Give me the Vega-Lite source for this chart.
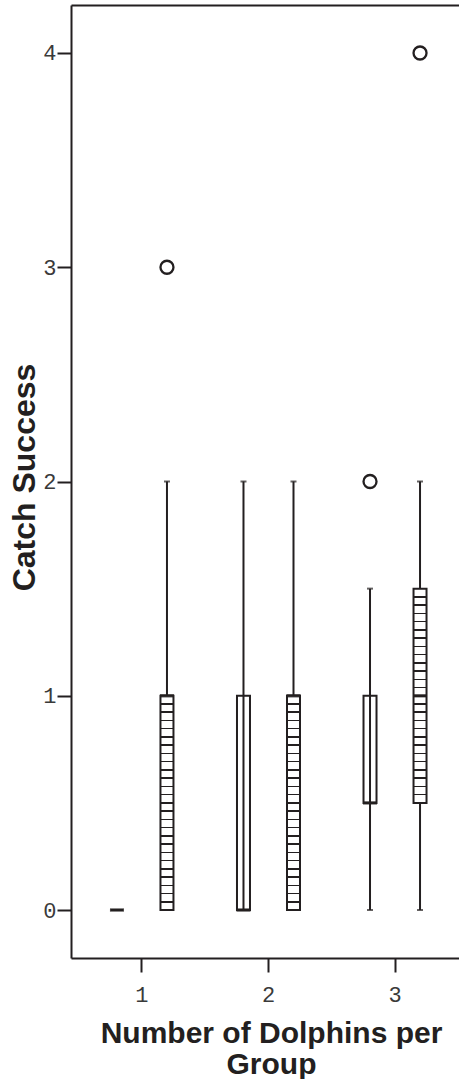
{
  "$schema": "https://vega.github.io/schema/vega-lite/v6.json",
  "width": 388,
  "height": 953,
  "autosize": {"type": "none"},
  "padding": {"left": 71, "top": 5, "right": 0, "bottom": 121},
  "background": "white",
  "config": {
    "view": {"stroke": null},
    "axis": {
      "domainColor": "#231f20", "domainWidth": 2,
      "tickColor": "#231f20", "tickWidth": 2, "tickSize": 14,
      "labelFont": "Liberation Mono", "labelFontSize": 22, "labelColor": "#3a3a3a",
      "titleFont": "Liberation Sans", "titleFontWeight": "bold", "titleFontSize": 30, "titleColor": "#231f20",
      "grid": false
    }
  },
  "datasets": {
    "summ": [
      {"g": "1", "s": "A", "lo": 0, "q1": 0, "med": 0, "q3": 0, "hi": 0},
      {"g": "1", "s": "B", "lo": 0, "q1": 0, "med": 1, "q3": 1, "hi": 2},
      {"g": "2", "s": "A", "lo": 0, "q1": 0, "med": 0, "q3": 1, "hi": 2},
      {"g": "2", "s": "B", "lo": 0, "q1": 0, "med": 1, "q3": 1, "hi": 2},
      {"g": "3", "s": "A", "lo": 0, "q1": 0.5, "med": 0.5, "q3": 1, "hi": 1.5},
      {"g": "3", "s": "B", "lo": 0, "q1": 0.5, "med": 1, "q3": 1.5, "hi": 2}
    ],
    "out": [
      {"g": "1", "s": "B", "v": 3},
      {"g": "3", "s": "A", "v": 2},
      {"g": "3", "s": "B", "v": 4}
    ]
  },
  "resolve": {"axis": {"x": "independent"}},
  "layer": [
    {
      "data": {"name": "summ"},
      "mark": {"type": "rule", "color": "#231f20", "strokeWidth": 2},
      "encoding": {
        "x": {"field": "g", "type": "nominal", "sort": ["1", "2", "3"],
              "scale": {"type": "band", "domain": ["1", "2", "3"], "paddingInner": 0.2095, "paddingOuter": 0.138, "align": 0.6},
              "axis": {"orient": "top", "labels": false, "ticks": false, "title": null, "domain": true}},
        "xOffset": {"field": "s", "type": "nominal", "scale": {"domain": ["A", "B"], "paddingInner": 0, "paddingOuter": 0}},
        "y": {"field": "lo", "type": "quantitative",
              "scale": {"domain": [-0.224, 4.224], "nice": false, "zero": false},
              "axis": {"values": [0, 1, 2, 3, 4], "title": "Catch Success", "labelPadding": 1, "titleFontSize": 32, "titleX": -37, "titleY": 472, "titleBaseline": "alphabetic", "titleAngle": -90, "titleAlign": "center"}},
        "y2": {"field": "hi"}
      }
    },
    {
      "data": {"name": "summ"},
      "mark": {"type": "tick", "color": "#231f20", "size": 6, "thickness": 2},
      "encoding": {
        "x": {"field": "g", "type": "nominal", "axis": null},
        "xOffset": {"field": "s", "type": "nominal"},
        "y": {"field": "lo", "type": "quantitative", "axis": {"values": [0, 1, 2, 3, 4], "title": "Catch Success", "labelPadding": 1, "titleFontSize": 32, "titleX": -37, "titleY": 472, "titleBaseline": "alphabetic", "titleAngle": -90, "titleAlign": "center"}}
      }
    },
    {
      "data": {"name": "summ"},
      "mark": {"type": "tick", "color": "#231f20", "size": 6, "thickness": 2},
      "encoding": {
        "x": {"field": "g", "type": "nominal", "axis": null},
        "xOffset": {"field": "s", "type": "nominal"},
        "y": {"field": "hi", "type": "quantitative", "axis": {"values": [0, 1, 2, 3, 4], "title": "Catch Success", "labelPadding": 1, "titleFontSize": 32, "titleX": -37, "titleY": 472, "titleBaseline": "alphabetic", "titleAngle": -90, "titleAlign": "center"}}
      }
    },
    {
      "data": {"name": "summ"},
      "transform": [{"filter": "datum.s == 'A'"}],
      "mark": {"type": "bar", "width": 13, "fill": "transparent", "stroke": "#231f20", "strokeWidth": 2},
      "encoding": {
        "x": {"field": "g", "type": "nominal", "axis": null},
        "xOffset": {"field": "s", "type": "nominal"},
        "y": {"field": "q1", "type": "quantitative", "axis": {"values": [0, 1, 2, 3, 4], "title": "Catch Success", "labelPadding": 1, "titleFontSize": 32, "titleX": -37, "titleY": 472, "titleBaseline": "alphabetic", "titleAngle": -90, "titleAlign": "center"}},
        "y2": {"field": "q3"}
      }
    },
    {
      "data": {"name": "summ"},
      "transform": [{"filter": "datum.s == 'B'"}],
      "mark": {"type": "bar", "width": 13, "stroke": "#231f20", "strokeWidth": 2,
        "fill": {"gradient": "linear", "x1": 0, "y1": 0, "x2": 0, "y2": 1, "stops": [
          {"offset": 0, "color": "white"},
          {"offset": 0.03496, "color": "white"}, {"offset": 0.03496, "color": "#231f20"}, {"offset": 0.04196, "color": "#231f20"}, {"offset": 0.04196, "color": "white"},
          {"offset": 0.07342, "color": "white"}, {"offset": 0.07342, "color": "#231f20"}, {"offset": 0.08042, "color": "#231f20"}, {"offset": 0.08042, "color": "white"},
          {"offset": 0.11188, "color": "white"}, {"offset": 0.11188, "color": "#231f20"}, {"offset": 0.11888, "color": "#231f20"}, {"offset": 0.11888, "color": "white"},
          {"offset": 0.15035, "color": "white"}, {"offset": 0.15035, "color": "#231f20"}, {"offset": 0.15735, "color": "#231f20"}, {"offset": 0.15735, "color": "white"},
          {"offset": 0.18881, "color": "white"}, {"offset": 0.18881, "color": "#231f20"}, {"offset": 0.19581, "color": "#231f20"}, {"offset": 0.19581, "color": "white"},
          {"offset": 0.22727, "color": "white"}, {"offset": 0.22727, "color": "#231f20"}, {"offset": 0.23427, "color": "#231f20"}, {"offset": 0.23427, "color": "white"},
          {"offset": 0.26573, "color": "white"}, {"offset": 0.26573, "color": "#231f20"}, {"offset": 0.27273, "color": "#231f20"}, {"offset": 0.27273, "color": "white"},
          {"offset": 0.30419, "color": "white"}, {"offset": 0.30419, "color": "#231f20"}, {"offset": 0.31119, "color": "#231f20"}, {"offset": 0.31119, "color": "white"},
          {"offset": 0.34265, "color": "white"}, {"offset": 0.34265, "color": "#231f20"}, {"offset": 0.34965, "color": "#231f20"}, {"offset": 0.34965, "color": "white"},
          {"offset": 0.38112, "color": "white"}, {"offset": 0.38112, "color": "#231f20"}, {"offset": 0.38812, "color": "#231f20"}, {"offset": 0.38812, "color": "white"},
          {"offset": 0.41958, "color": "white"}, {"offset": 0.41958, "color": "#231f20"}, {"offset": 0.42658, "color": "#231f20"}, {"offset": 0.42658, "color": "white"},
          {"offset": 0.45804, "color": "white"}, {"offset": 0.45804, "color": "#231f20"}, {"offset": 0.46504, "color": "#231f20"}, {"offset": 0.46504, "color": "white"},
          {"offset": 0.4965, "color": "white"}, {"offset": 0.4965, "color": "#231f20"}, {"offset": 0.5035, "color": "#231f20"}, {"offset": 0.5035, "color": "white"},
          {"offset": 0.53496, "color": "white"}, {"offset": 0.53496, "color": "#231f20"}, {"offset": 0.54196, "color": "#231f20"}, {"offset": 0.54196, "color": "white"},
          {"offset": 0.57342, "color": "white"}, {"offset": 0.57342, "color": "#231f20"}, {"offset": 0.58042, "color": "#231f20"}, {"offset": 0.58042, "color": "white"},
          {"offset": 0.61188, "color": "white"}, {"offset": 0.61188, "color": "#231f20"}, {"offset": 0.61888, "color": "#231f20"}, {"offset": 0.61888, "color": "white"},
          {"offset": 0.65035, "color": "white"}, {"offset": 0.65035, "color": "#231f20"}, {"offset": 0.65735, "color": "#231f20"}, {"offset": 0.65735, "color": "white"},
          {"offset": 0.68881, "color": "white"}, {"offset": 0.68881, "color": "#231f20"}, {"offset": 0.69581, "color": "#231f20"}, {"offset": 0.69581, "color": "white"},
          {"offset": 0.72727, "color": "white"}, {"offset": 0.72727, "color": "#231f20"}, {"offset": 0.73427, "color": "#231f20"}, {"offset": 0.73427, "color": "white"},
          {"offset": 0.76573, "color": "white"}, {"offset": 0.76573, "color": "#231f20"}, {"offset": 0.77273, "color": "#231f20"}, {"offset": 0.77273, "color": "white"},
          {"offset": 0.80419, "color": "white"}, {"offset": 0.80419, "color": "#231f20"}, {"offset": 0.81119, "color": "#231f20"}, {"offset": 0.81119, "color": "white"},
          {"offset": 0.84265, "color": "white"}, {"offset": 0.84265, "color": "#231f20"}, {"offset": 0.84965, "color": "#231f20"}, {"offset": 0.84965, "color": "white"},
          {"offset": 0.88112, "color": "white"}, {"offset": 0.88112, "color": "#231f20"}, {"offset": 0.88812, "color": "#231f20"}, {"offset": 0.88812, "color": "white"},
          {"offset": 0.91958, "color": "white"}, {"offset": 0.91958, "color": "#231f20"}, {"offset": 0.92658, "color": "#231f20"}, {"offset": 0.92658, "color": "white"},
          {"offset": 0.95804, "color": "white"}, {"offset": 0.95804, "color": "#231f20"}, {"offset": 0.96504, "color": "#231f20"}, {"offset": 0.96504, "color": "white"},
          {"offset": 1, "color": "white"}
        ]}},
      "encoding": {
        "x": {"field": "g", "type": "nominal", "axis": null},
        "xOffset": {"field": "s", "type": "nominal"},
        "y": {"field": "q1", "type": "quantitative", "axis": {"values": [0, 1, 2, 3, 4], "title": "Catch Success", "labelPadding": 1, "titleFontSize": 32, "titleX": -37, "titleY": 472, "titleBaseline": "alphabetic", "titleAngle": -90, "titleAlign": "center"}},
        "y2": {"field": "q3"}
      }
    },
    {
      "data": {"name": "summ"},
      "mark": {"type": "tick", "color": "#231f20", "size": 14, "thickness": 3.5},
      "encoding": {
        "x": {"field": "g", "type": "nominal", "axis": null},
        "xOffset": {"field": "s", "type": "nominal"},
        "y": {"field": "med", "type": "quantitative", "axis": {"values": [0, 1, 2, 3, 4], "title": "Catch Success", "labelPadding": 1, "titleFontSize": 32, "titleX": -37, "titleY": 472, "titleBaseline": "alphabetic", "titleAngle": -90, "titleAlign": "center"}}
      }
    },
    {
      "data": {"name": "out"},
      "mark": {"type": "point", "shape": "circle", "size": 169, "filled": false, "color": "#231f20", "strokeWidth": 2.3, "opacity": 1},
      "encoding": {
        "x": {"field": "g", "type": "nominal",
              "axis": {"orient": "bottom", "labelAngle": 0, "bandPosition": 0.5, "labelPadding": 12,
                       "title": ["Number of Dolphins per", "Group"], "titleFontSize": 30, "titleX": 200, "titleY": 84, "titleBaseline": "alphabetic", "titleLineHeight": 31, "titleAlign": "center"}},
        "xOffset": {"field": "s", "type": "nominal"},
        "y": {"field": "v", "type": "quantitative", "axis": {"values": [0, 1, 2, 3, 4], "title": "Catch Success", "labelPadding": 1, "titleFontSize": 32, "titleX": -37, "titleY": 472, "titleBaseline": "alphabetic", "titleAngle": -90, "titleAlign": "center"}}
      }
    }
  ]
}
